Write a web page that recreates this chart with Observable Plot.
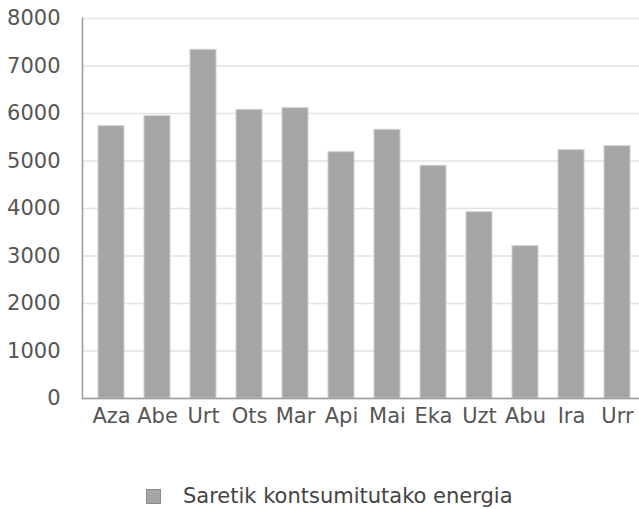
<!DOCTYPE html>
<html>
<head>
<meta charset="utf-8">
<script src="https://cdn.jsdelivr.net/npm/d3@7"></script>
<script src="https://cdn.jsdelivr.net/npm/@observablehq/plot@0.6"></script>
<style>
  html, body { margin: 0; padding: 0; background: #fff; overflow: hidden; width: 639px; height: 509px; }
  body { font-family: "DejaVu Sans", sans-serif; }
  #chart svg { max-width: none !important; display: block; }
  #legend { display: flex; align-items: center; margin-left: 146px; margin-top: 46px; height: 20px; font-size: 21px; color: #444; }
  #legend .sw { width: 13px; height: 13px; background: #a5a5a5; border: 1px solid #8a8a8a; margin-right: 22px; }
</style>
</head>
<body>
<div id="chart"></div>
<div id="legend"><span class="sw"></span><span id="legend-label"></span></div>
<script>
const months = ["Aza", "Abe", "Urt", "Ots", "Mar", "Api", "Mai", "Eka", "Uzt", "Abu", "Ira", "Urr"];
const energy = [5733, 5943, 7341, 6076, 6112, 5185, 5656, 4899, 3922, 3206, 5227, 5312];
const yTicks = [0, 1000, 2000, 3000, 4000, 5000, 6000, 7000, 8000];
const seriesName = "Saretik kontsumitutako energia";

const data = months.map((m, i) => ({month: m, value: energy[i]}));

const chart = Plot.plot({
  width: 645,
  height: 440,
  marginLeft: 82,
  marginRight: 0,
  marginTop: 18,
  marginBottom: 42,
  style: {fontFamily: "DejaVu Sans, sans-serif", fontSize: "21px", color: "#555", background: "#fff"},
  x: {domain: months, paddingInner: 0.44, paddingOuter: 0.22, label: null, tickSize: 0, tickPadding: 10},
  y: {domain: [0, 8000], ticks: yTicks, label: null, tickSize: 0, tickPadding: 22, tickFormat: d => String(d)},
  marks: [
    Plot.ruleY(yTicks, {stroke: "#e3e3e3", strokeWidth: 1.5}),
    Plot.barY(data, {x: "month", y: "value", fill: "#a5a5a5", stroke: "#cfcfcf", strokeWidth: 1}),
    Plot.ruleY([0], {stroke: "#9a9a9a", strokeWidth: 1.5}),
    Plot.frame({anchor: "left", stroke: "#9a9a9a", strokeWidth: 1.5})
  ]
});
document.getElementById("chart").append(chart);
document.getElementById("legend-label").textContent = seriesName;
</script>
</body>
</html>
